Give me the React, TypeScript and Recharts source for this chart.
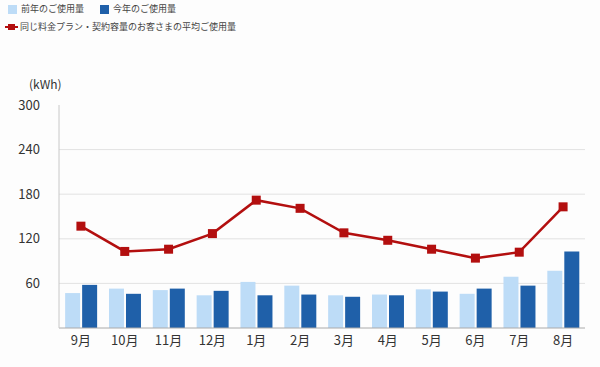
import { ComposedChart, Bar, Line, XAxis, YAxis, CartesianGrid } from "recharts";

const months = ["9月", "10月", "11月", "12月", "1月", "2月", "3月", "4月", "5月", "6月", "7月", "8月"];
const lastYear = [47, 53, 51, 44, 62, 57, 44, 45, 52, 46, 69, 77];
const thisYear = [58, 46, 53, 50, 44, 45, 42, 44, 49, 53, 57, 103];
const planAverage = [137, 103, 106, 127, 172, 161, 128, 118, 106, 94, 102, 163];
const yTicks = [60, 120, 180, 240, 300];

const LIGHT = "#bddcf7";
const DARK = "#1f60a9";
const RED = "#b30f0f";
const FONT = "'Noto Sans CJK JP', 'Noto Sans', sans-serif";

const data = months.map((m, i) => ({
  month: m,
  prev: lastYear[i],
  cur: thisYear[i],
  avg: planAverage[i],
}));

function SquareDot(props: any) {
  const { cx, cy } = props;
  if (cx == null || cy == null) return null;
  return <rect x={cx - 4.5} y={cy - 4.5} width={9} height={9} fill={RED} />;
}

export default function App() {
  return (
    <div style={{ position: "relative", width: 600, height: 367, background: "#fdfdfd", fontFamily: FONT }}>
      <style>{`body{margin:0}`}</style>

      {/* legend */}
      <div style={{ position: "absolute", left: 0, top: 0, fontSize: 9, color: "#444", lineHeight: "12px" }}>
        <div style={{ position: "absolute", left: 8, top: 5, width: 9, height: 9, background: LIGHT }} />
        <span style={{ position: "absolute", left: 21, top: 3, whiteSpace: "nowrap" }}>前年のご使用量</span>
        <div style={{ position: "absolute", left: 100, top: 5, width: 9, height: 9, background: DARK }} />
        <span style={{ position: "absolute", left: 113, top: 3, whiteSpace: "nowrap" }}>今年のご使用量</span>
        <div style={{ position: "absolute", left: 5, top: 26, width: 13, height: 2, background: RED }} />
        <div style={{ position: "absolute", left: 8, top: 24, width: 7, height: 6, background: RED }} />
        <span style={{ position: "absolute", left: 20, top: 21, whiteSpace: "nowrap" }}>
          同じ料金プラン・契約容量のお客さまの平均ご使用量
        </span>
      </div>

      <div style={{ position: "absolute", left: 29, top: 75, fontSize: 12, color: "#333" }}>(kWh)</div>

      <div style={{ position: "absolute", left: 0, top: 0 }}>
        <ComposedChart
          width={600}
          height={367}
          data={data}
          margin={{ top: 105, right: 15, bottom: 8, left: 0 }}
          barCategoryGap="14%"
          barGap={2}
        >
          <CartesianGrid vertical={false} stroke="#e2e2e2" horizontalValues={[60, 120, 180, 240]} />
          <XAxis
            dataKey="month"
            height={31}
            tickLine={false}
            axisLine={{ stroke: "#aaaaaa" }}
            tick={{ fill: "#333", fontSize: 13, fontFamily: FONT }}
            interval={0}
          />
          <YAxis
            width={59}
            domain={[0, 300]}
            ticks={yTicks}
            tickLine={false}
            tickSize={0}
            tickMargin={19}
            axisLine={{ stroke: "#c8c8c8" }}
            tick={{ fill: "#333", fontSize: 13, fontFamily: FONT }}
          />
          <Bar dataKey="prev" fill={LIGHT} isAnimationActive={false} />
          <Bar dataKey="cur" fill={DARK} isAnimationActive={false} />
          <Line
            dataKey="avg"
            stroke={RED}
            strokeWidth={2.5}
            dot={<SquareDot />}
            activeDot={false}
            isAnimationActive={false}
          />
        </ComposedChart>
      </div>
    </div>
  );
}
